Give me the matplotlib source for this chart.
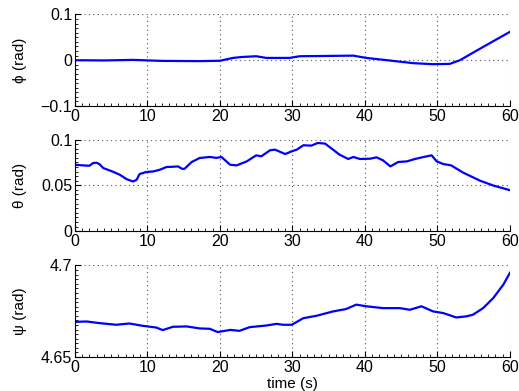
import matplotlib
matplotlib.use('Agg')
import matplotlib.pyplot as plt
from matplotlib.ticker import MultipleLocator

plt.rcParams['font.family'] = ['Liberation Sans', 'DejaVu Sans']

# roll angle phi (rad)
phi_t = [0, 4, 8, 12, 17.2, 20, 21.8, 23, 25, 26.4, 29.6, 31, 33, 35.6, 38.4, 40.2, 43.9, 46.7, 49.4, 51.7, 53.1, 56.3, 60]
phi_v = [0, -0.0005, 0.0007, -0.0015, -0.002, -0.0012, 0.005, 0.007, 0.0087, 0.005, 0.005, 0.0087, 0.009, 0.0095, 0.010, 0.005,
         -0.0015, -0.0065, -0.0087, -0.008, 0, 0.029, 0.062]

# pitch angle theta (rad)
theta_t = [0, 1.1, 2, 2.5, 3, 3.4, 3.9, 5.2, 6.2, 7.1, 8, 8.5, 8.9, 9.8, 10.8, 11.7, 12.6, 13.5, 14.2, 14.8, 15.1, 16.1, 17.2,
           18.6, 19.5, 20.2, 21.4, 22.3, 23.7, 25, 25.7, 26.9, 27.6, 29, 29.9, 30.6, 31.5, 32.6, 33.5, 34.5, 35.6, 36.5,
           37.7, 38.4, 39.3, 40.7, 41.6, 42.5, 43.5, 44.6, 45.8, 46.9, 48.1, 49.2, 49.9, 50.8, 51.9, 53.5, 55.9, 57.7, 60]
theta_v = [0.0725, 0.0718, 0.0714, 0.0744, 0.0747, 0.073, 0.0689, 0.065, 0.0615, 0.0568, 0.0542, 0.056, 0.0623, 0.0645,
           0.0652, 0.067, 0.070, 0.0703, 0.0707, 0.068, 0.068, 0.0755, 0.0799, 0.081, 0.080, 0.081, 0.0725, 0.0718,
           0.0762, 0.0828, 0.0817, 0.0883, 0.089, 0.0842, 0.0872, 0.089, 0.0938, 0.0934, 0.0963, 0.0956, 0.089, 0.0835,
           0.0788, 0.081, 0.0788, 0.0791, 0.0806, 0.0773, 0.0707, 0.0755, 0.0762, 0.0788, 0.081, 0.0828, 0.0762, 0.0733,
           0.0718, 0.0641, 0.055, 0.0498, 0.0447]

# yaw angle psi (rad)
psi_t = [0, 1.6, 3.4, 5.7, 7.5, 9.4, 11.2, 12.1, 13.5, 15.4, 17.2, 18.6, 19.7, 21.4, 22.7, 24.1, 26.4, 27.8, 28.7, 29.9,
         31.5, 33.3, 35.6, 37.4, 38.8, 40.2, 42.5, 44.8, 46.2, 47.8, 49.4, 50.8, 52.6, 54, 54.9, 56.3, 57.7, 59.1, 60]
psi_v = [4.6692, 4.6694, 4.6685, 4.6676, 4.6683, 4.667, 4.6661, 4.6647, 4.6665, 4.6667, 4.6656, 4.6654, 4.6636, 4.6648,
         4.6643, 4.6663, 4.6672, 4.6681, 4.6676, 4.6676, 4.6712, 4.6725, 4.6749, 4.6762, 4.6786, 4.6777, 4.6767, 4.6767,
         4.6758, 4.6777, 4.6749, 4.674, 4.6716, 4.6722, 4.6731, 4.6767, 4.6822, 4.6896, 4.696]

xticks = [0, 10, 20, 30, 40, 50, 60]
panels = [
    (phi_t, phi_v, [-0.1, 0.1], [-0.1, 0, 0.1], ['\u22120.1', '0', '0.1'], '\u03d5 (rad)', 0.01),
    (theta_t, theta_v, [0, 0.1], [0, 0.05, 0.1], ['0', '0.05', '0.1'], '\u03b8 (rad)', 0.005),
    (psi_t, psi_v, [4.65, 4.7], [4.65, 4.7], ['4.65', '4.7'], '\u03c8 (rad)', 0.0025),
]
boxes = [0.729, 0.409, 0.087]

fig = plt.figure(figsize=(5.19, 3.91), dpi=100)
for (t, v, ylim, yt, ytl, lab, ymin_step), b in zip(panels, boxes):
    ax = fig.add_axes([0.1445, b, 0.838, 0.234])
    ax.plot(t, v, color='#0000ff', lw=1.6)
    ax.set_xlim(0, 60)
    ax.set_ylim(ylim)
    ax.set_xticks(xticks)
    ax.set_yticks(yt)
    ax.set_yticklabels(ytl)
    ax.xaxis.set_minor_locator(MultipleLocator(1))
    ax.yaxis.set_minor_locator(MultipleLocator(ymin_step))
    ax.grid(True, which='major', color='#555555', linestyle=(0, (1, 3)), linewidth=0.8)
    for s in ['top', 'right']:
        ax.spines[s].set_visible(False)
    ax.tick_params(which='major', direction='in', length=4, labelsize=11.5, pad=2)
    ax.tick_params(which='minor', direction='in', length=2, width=0.6)
    ax.set_ylabel(lab, fontsize=11)
    ax.yaxis.set_label_coords(-0.11, 0.5)

ax.set_xlabel('time (s)', fontsize=11)
ax.xaxis.set_label_coords(0.5, -0.215)

fig.savefig('out.png', dpi=100)
